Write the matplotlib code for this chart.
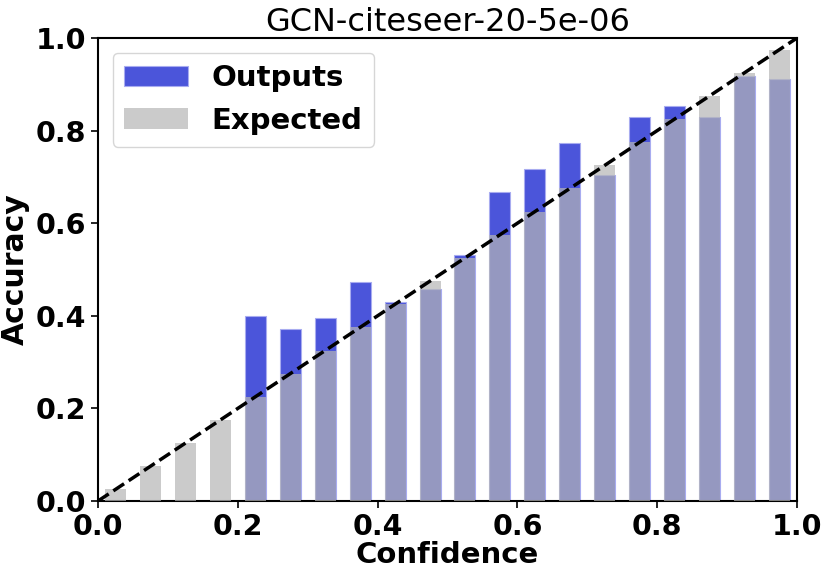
import matplotlib
matplotlib.use('Agg')
import matplotlib.pyplot as plt
import numpy as np

# bin centres (20 bins) and observed accuracy per bin
bin_centers = [0.025, 0.075, 0.125, 0.175, 0.225, 0.275, 0.325, 0.375, 0.425, 0.475,
               0.525, 0.575, 0.625, 0.675, 0.725, 0.775, 0.825, 0.875, 0.925, 0.975]
outputs = [0.0, 0.0, 0.0, 0.0, 0.400, 0.371, 0.395, 0.472, 0.430, 0.458,
           0.532, 0.667, 0.717, 0.773, 0.704, 0.829, 0.853, 0.830, 0.919, 0.911]
expected = bin_centers
title = 'GCN-citeseer-20-5e-06'

fig = plt.figure(figsize=(8.21, 5.78), dpi=100)
ax = fig.add_axes([98 / 821, 1 - 501 / 578, 699 / 821, 463 / 578])

ax.bar(bin_centers, outputs, width=0.03, color='#4b55da', edgecolor='#a8acf0',
       linewidth=0.8, label='Outputs', zorder=2)
ax.bar(bin_centers, expected, width=0.03, color='#b6b6b6', alpha=0.7,
       label='Expected', zorder=3)
ax.plot([0, 1], [0, 1], color='black', linestyle='--', linewidth=2.5, zorder=4)

ax.set_xlim(0, 1)
ax.set_ylim(0, 1)
ax.set_xticks(np.arange(0, 1.01, 0.2))
ax.set_yticks(np.arange(0, 1.01, 0.2))
ax.tick_params(labelsize=20.5, width=1.2, length=5)
for lbl in ax.get_xticklabels() + ax.get_yticklabels():
    lbl.set_fontweight('bold')
for sp in ax.spines.values():
    sp.set_linewidth(1.5)

ax.set_xlabel('Confidence', fontsize=21, fontweight='bold', labelpad=0)
ax.set_ylabel('Accuracy', fontsize=21.5, fontweight='bold', labelpad=4)
ax.set_title(title, fontsize=23, pad=4)

ax.legend(loc='upper left', prop={'size': 21, 'weight': 'bold'}, handlelength=2.2)

fig.savefig('out.png', dpi=100)
